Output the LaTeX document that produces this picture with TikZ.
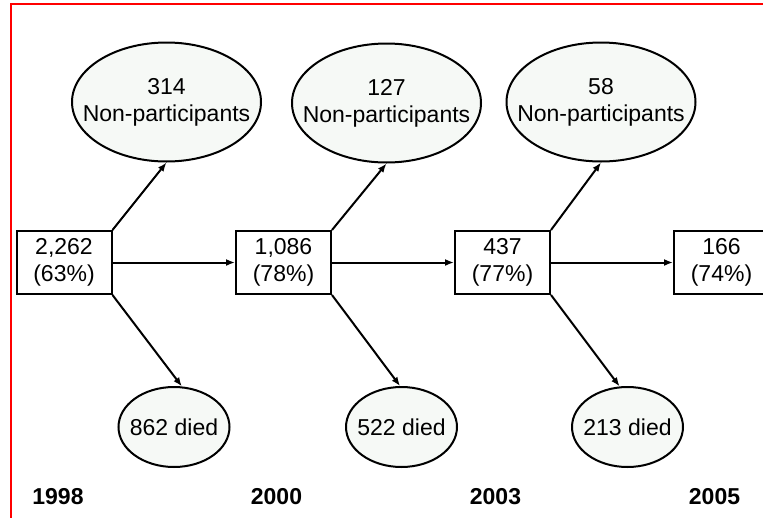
\documentclass[tikz,border=0pt]{standalone}
\usepackage{fontspec}
\setmainfont{Liberation Sans}
\usepackage{xcolor}
\usetikzlibrary{arrows.meta, positioning, shapes.geometric}
\definecolor{ovalfill}{RGB}{246,249,246}

\begin{document}
\begin{tikzpicture}[x=1pt, y=-1pt,
    every node/.style={font=\fontsize{23}{27}\selectfont, inner sep=0pt, align=center},
    countbox/.style={rectangle, draw, line width=2pt, minimum width=95pt, minimum height=63pt},
    oval/.style={ellipse, draw, line width=2pt, fill=ovalfill, inner xsep=-50pt},
    bigoval/.style={oval, minimum width=189pt, minimum height=119pt},
    smalloval/.style={oval, minimum width=111pt, minimum height=80pt},
    yearlabel/.style={font=\fontsize{23}{27}\selectfont\bfseries},
    arr/.style={-{Latex[length=9pt, width=7pt]}, line width=2pt}]
    \useasboundingbox (0,0) rectangle (763,517);
    \draw[red, line width=2pt] (11,530) -- (11,4) -- (790,4);

    % counts per wave
    \node[countbox] (b1) at (64,262.5)    {2,262\\(63\%)};
    \node[countbox] (b2) at (283.5,262.5) {1,086\\(78\%)};
    \node[countbox] (b3) at (502.5,262.5) {437\\(77\%)};
    \node[countbox] (b4) at (721.5,262.5) {166\\(74\%)};

    % lost to follow-up
    \node[bigoval] (np1) at (166.5,102) {314\\Non-participants};
    \node[bigoval] (np2) at (386.5,103) {127\\Non-participants};
    \node[bigoval] (np3) at (601,102)   {58\\Non-participants};

    \node[smalloval] (d1) at (174,427)   {862 died};
    \node[smalloval] (d2) at (401.5,427) {522 died};
    \node[smalloval] (d3) at (627.5,427) {213 died};

    % years
    \node[yearlabel] (y1) at (58,497)    {1998};
    \node[yearlabel] (y2) at (276.5,497) {2000};
    \node[yearlabel] (y3) at (495.5,497) {2003};
    \node[yearlabel] (y4) at (714.5,497) {2005};

    \draw[arr] (b1.east) -- (b2.west);
    \draw[arr] (b2.east) -- (b3.west);
    \draw[arr] (b3.east) -- (b4.west);

    \draw[arr] (b1.north east) -- (np1.south);
    \draw[arr] (b2.north east) -- (np2.south);
    \draw[arr] (b3.north east) -- (np3.south);

    \draw[arr] (b1.south east) -- (d1.79);
    \draw[arr] (b2.south east) -- (d2.92);
    \draw[arr] (b3.south east) -- (d3.101);
\end{tikzpicture}
\end{document}
